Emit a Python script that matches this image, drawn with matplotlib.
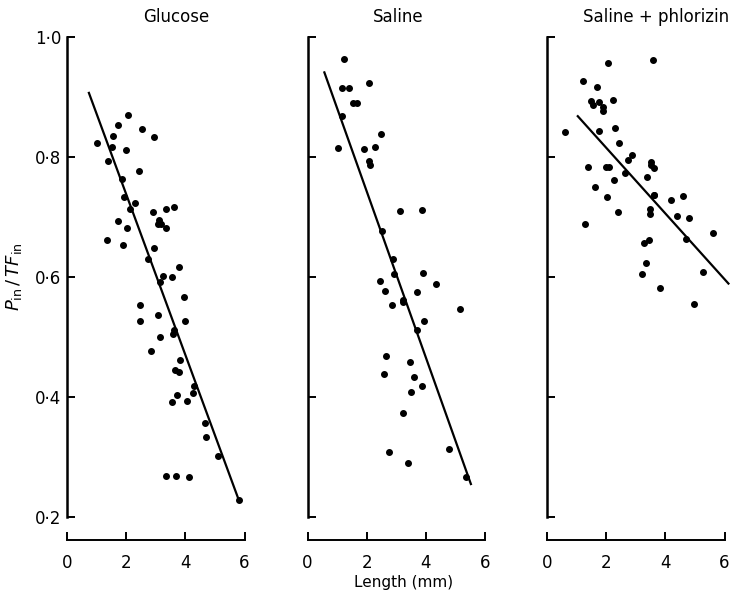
import matplotlib
matplotlib.use("Agg")
import matplotlib.pyplot as plt
import numpy as np

plt.rcParams['font.family'] = ['DejaVu Sans Condensed', 'Liberation Sans Narrow', 'DejaVu Sans']

titles = ["Glucose", "Saline", "Saline + phlorizin"]

glucose_x = [2.06, 1.71, 2.53, 1.57, 2.95, 1.00, 1.51, 2.01, 1.39, 2.42, 1.85,
             1.93, 2.31, 2.14, 2.91, 3.36, 3.61, 3.11, 3.07, 3.16, 3.36, 1.73,
             2.04, 1.34, 1.90, 2.95, 2.74, 3.80, 3.24, 3.54, 3.13, 3.94, 2.46,
             3.09, 2.48, 4.00, 3.60, 3.58, 3.14, 2.85, 3.81, 3.66, 3.77, 4.28,
             3.70, 4.24, 3.55, 4.05, 4.67, 4.68, 5.09, 3.36, 3.69, 4.12, 5.82]
glucose_y = [0.870, 0.853, 0.847, 0.835, 0.833, 0.824, 0.817, 0.812, 0.793, 0.777,
             0.763, 0.733, 0.724, 0.713, 0.708, 0.713, 0.716, 0.695, 0.688, 0.688,
             0.682, 0.693, 0.682, 0.662, 0.654, 0.648, 0.630, 0.617, 0.601, 0.600,
             0.592, 0.567, 0.553, 0.537, 0.526, 0.526, 0.512, 0.505, 0.500, 0.477,
             0.462, 0.445, 0.441, 0.418, 0.404, 0.406, 0.391, 0.394, 0.356, 0.333,
             0.302, 0.269, 0.269, 0.266, 0.228]

saline_x = [1.23, 1.16, 1.41, 2.09, 1.55, 1.66, 1.18, 2.47, 1.02, 1.91, 2.29,
            2.09, 2.12, 3.13, 3.87, 2.51, 2.89, 2.93, 3.91, 2.45, 4.33, 2.61,
            3.70, 3.24, 3.21, 2.84, 5.15, 3.93, 3.70, 2.65, 3.45, 2.59, 3.60,
            3.88, 3.49, 3.23, 2.74, 4.77, 3.39, 5.34]
saline_y = [0.963, 0.915, 0.915, 0.923, 0.890, 0.890, 0.868, 0.838, 0.815, 0.813,
            0.817, 0.794, 0.787, 0.710, 0.711, 0.676, 0.630, 0.605, 0.606, 0.593,
            0.589, 0.576, 0.575, 0.561, 0.558, 0.553, 0.546, 0.527, 0.512, 0.468,
            0.459, 0.438, 0.433, 0.419, 0.408, 0.374, 0.309, 0.313, 0.290, 0.266]

phlorizin_x = [2.06, 3.57, 1.20, 1.68, 1.50, 1.55, 1.77, 1.88, 1.88, 2.23, 0.61,
               1.77, 2.30, 2.44, 2.88, 2.74, 1.38, 2.01, 2.10, 3.51, 3.53, 3.60,
               2.62, 3.39, 2.27, 1.62, 2.02, 3.60, 3.63, 4.18, 4.60, 2.40, 3.48,
               3.48, 4.39, 4.80, 1.28, 5.60, 4.70, 3.45, 3.29, 3.36, 3.22, 5.27,
               3.81, 4.96]
phlorizin_y = [0.957, 0.961, 0.927, 0.916, 0.893, 0.886, 0.892, 0.884, 0.877, 0.895,
               0.841, 0.843, 0.848, 0.824, 0.803, 0.795, 0.784, 0.783, 0.783, 0.792,
               0.786, 0.782, 0.774, 0.766, 0.761, 0.750, 0.733, 0.737, 0.737, 0.729,
               0.735, 0.709, 0.713, 0.705, 0.702, 0.698, 0.688, 0.674, 0.664, 0.661,
               0.656, 0.624, 0.605, 0.609, 0.581, 0.555]

# regression lines: (x start, x end), intercept, slope
fit_x_range = [(0.74, 5.82), (0.57, 5.52), (1.04, 6.13)]
fit_intercept = [1.006, 1.020, 0.925]
fit_slope = [-0.134, -0.1386, -0.0548]

x_ticks = [0, 2, 4, 6]
y_ticks = [0.2, 0.4, 0.6, 0.8, 1.0]
y_tick_labels = ["0\u00b72", "0\u00b74", "0\u00b76", "0\u00b78", "1\u00b70"]

datasets = [(glucose_x, glucose_y), (saline_x, saline_y), (phlorizin_x, phlorizin_y)]

W, H = 735, 598
fig = plt.figure(figsize=(W / 100, H / 100), dpi=100)

lefts = [67, 307.5, 547]
title_pos = [0.57, 0.47, 0.565]
px_per_unit = 29.6
ax_w = 6.5 * px_per_unit
top, bottom = 37, 517

for i, (xs, ys) in enumerate(datasets):
    ax = fig.add_axes([lefts[i] / W, (H - bottom) / H, ax_w / W, (bottom - top) / H])
    ax.plot(xs, ys, 'o', color='black', ms=4, clip_on=False)
    x0, x1 = fit_x_range[i]
    lx = np.array([x0, x1])
    ax.plot(lx, fit_intercept[i] + fit_slope[i] * lx, color='black', lw=1.6,
            clip_on=False)

    ax.set_xlim(0, 6.5)
    ax.set_ylim(0.2, 1.0)
    for s in ['top', 'right']:
        ax.spines[s].set_visible(False)
    ax.spines['bottom'].set_position(('outward', 16.5))
    ax.spines['bottom'].set_bounds(0, 6)
    ax.spines['bottom'].set_linewidth(1.4)
    ax.spines['left'].set_linewidth(1.8)

    ax.set_xticks(x_ticks)
    ax.set_xticklabels([str(t) for t in x_ticks], fontsize=12)
    ax.set_yticks(y_ticks)
    if i == 0:
        ax.set_yticklabels(y_tick_labels, fontsize=12)
    else:
        ax.set_yticklabels([])
    ax.tick_params(axis='both', direction='in', length=6, width=1.4, color='black')
    ax.tick_params(axis='x', pad=10)
    ax.tick_params(axis='y', pad=4)

    ax.text(title_pos[i], 1.022, titles[i], transform=ax.transAxes,
            ha='center', va='bottom', fontsize=12)

    if i == 0:
        ax.set_ylabel(r"$P_{\rm in}\,/\,TF_{\rm in}$", fontsize=13, labelpad=8)
    if i == 1:
        ax.set_xlabel("Length (mm)", fontsize=11, labelpad=2)

fig.savefig("out.png", dpi=100)
